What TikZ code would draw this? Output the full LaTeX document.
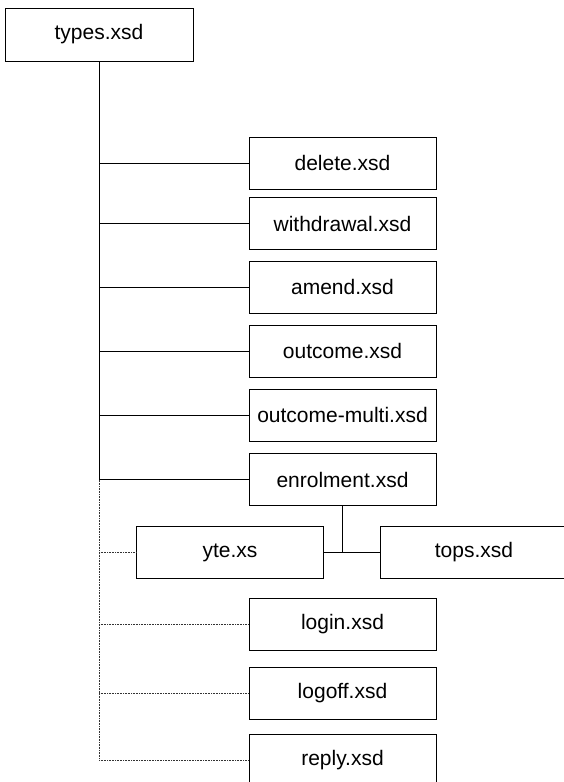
\documentclass[tikz,border=0pt]{standalone}
\usepackage{fontspec}
\setmainfont{Liberation Sans}
\usepackage{tikz}
\usetikzlibrary{calc}
\usetikzlibrary{positioning}

\tikzset{
  xsdbox/.style={draw, line width=0.9pt, rectangle, minimum width=187pt, minimum height=52pt,
    inner sep=0pt, font=\fontsize{21}{24}\selectfont},
  link/.style={line width=0.9pt},
  weaklink/.style={line width=0.6pt, densely dotted, black!80}
}

\begin{document}
\begin{tikzpicture}[x=1pt, y=-1pt, line cap=butt, line join=miter]

  \useasboundingbox (0,0) rectangle (563,782);

  %--------------------------
  % Root schema
  %--------------------------
  \node[xsdbox, minimum width=188pt, minimum height=53pt] (types) at (99,34.5) {types.xsd};

  %--------------------------
  % Message schemas
  %--------------------------
  \node[xsdbox] (delete)     at (342.5,163)   {delete.xsd};
  \node[xsdbox] (withdrawal) at (342.5,223.5) {withdrawal.xsd};
  \node[xsdbox] (amend)      at (342.5,287)   {amend.xsd};
  \node[xsdbox] (outcome)    at (342.5,351)   {outcome.xsd};
  \node[xsdbox] (multi)      at (342.5,415)   {outcome-multi.xsd};
  \node[xsdbox] (enrolment)  at (342.5,479.5) {enrolment.xsd};

  \node[xsdbox] (yte)  at (230,552.5) {yte.xs};
  \node[xsdbox] (tops) at (474,552.5) {tops.xsd};

  \node[xsdbox] (login)  at (342.5,624.5) {login.xsd};
  \node[xsdbox] (logoff) at (342.5,693)   {logoff.xsd};
  \node[xsdbox] (reply)  at (342.5,760.5) {reply.xsd};

  %--------------------------
  % Trunk
  %--------------------------
  \coordinate (trunkend) at (types.south |- reply.west);
  \draw[link] (types.south) -- (types.south |- enrolment.west);
  \draw[weaklink] (types.south |- enrolment.west) -- (trunkend);

  % Branches
  \foreach \n in {delete, withdrawal, amend, outcome, multi, enrolment}
    \draw[link] (types.south |- \n.west) -- (\n.west);
  \foreach \n in {yte, login, logoff}
    \draw[weaklink] (types.south |- \n.west) -- (\n.west);
  \draw[weaklink] (trunkend) -- (reply.west);

  % Enrolment includes
  \draw[link] (enrolment.south) -- (enrolment.south |- yte.east);
  \draw[link] (yte.east) -- (tops.west);

\end{tikzpicture}
\end{document}
